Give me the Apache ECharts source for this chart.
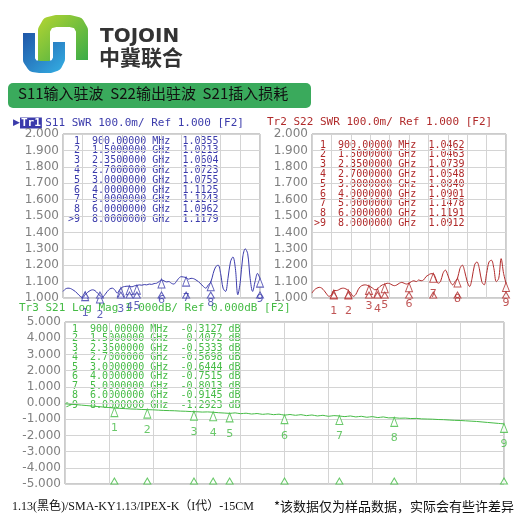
<!DOCTYPE html>
<html><head><meta charset="utf-8">
<script src="https://cdn.jsdelivr.net/npm/echarts@6/dist/echarts.min.js"></script>
<style>html,body{margin:0;padding:0;background:#fff}#c{width:520px;height:520px}</style>
</head><body><div id="c"></div>
<script>
const freq = [0,0.1,0.2,0.3,0.4,0.5,0.6,0.7,0.8,0.9,1.0,1.1,1.2,1.3,1.4,1.5,1.6,1.7,1.8,1.9,2.0,2.1,2.2,2.3,2.4,2.5,2.6,2.7,2.8,2.9,3.0,3.1,3.2,3.3,3.4,3.5,3.6,3.7,3.8,3.9,4.0,4.1,4.2,4.3,4.4,4.5,4.6,4.7,4.8,4.9,5.0,5.1,5.2,5.3,5.4,5.5,5.6,5.7,5.8,5.9,6.0,6.1,6.2,6.3,6.4,6.5,6.6,6.7,6.8,6.9,7.0,7.1,7.2,7.3,7.4,7.5,7.6,7.7,7.8,7.9,8.0];
const s11 = [1.04,1.055,1.06,1.058,1.05,1.04,1.025,1.01,1.003,1.02,1.035,1.045,1.05,1.045,1.03,1.015,1.005,1.02,1.04,1.055,1.06,1.05,1.03,1.05,1.065,1.07,1.072,1.072,1.068,1.074,1.076,1.08,1.078,1.082,1.08,1.085,1.083,1.088,1.09,1.1,1.11,1.105,1.098,1.1,1.09,1.085,1.1,1.12,1.13,1.128,1.124,1.115,1.12,1.118,1.11,1.1,1.085,1.07,1.06,1.08,1.096,1.15,1.19,1.2,1.15,1.06,1.04,1.12,1.22,1.25,1.18,1.02,1.1,1.25,1.3,1.27,1.12,1.04,1.1,1.15,1.118];
const s22 = [1.03,1.05,1.06,1.065,1.06,1.045,1.025,1.01,1.02,1.046,1.045,1.05,1.058,1.06,1.055,1.046,1.03,1.01,1.02,1.05,1.07,1.078,1.08,1.076,1.07,1.06,1.05,1.055,1.07,1.08,1.084,1.09,1.088,1.08,1.075,1.08,1.09,1.095,1.09,1.085,1.09,1.1,1.105,1.1,1.11,1.105,1.11,1.13,1.14,1.148,1.148,1.12,1.09,1.1,1.15,1.17,1.14,1.1,1.08,1.1,1.12,1.18,1.2,1.16,1.1,1.07,1.12,1.2,1.22,1.18,1.1,1.08,1.15,1.22,1.23,1.18,1.1,1.12,1.24,1.15,1.09];
const s21 = [-0.05,-0.08,-0.1,-0.13,-0.16,-0.19,-0.22,-0.25,-0.28,-0.31,-0.33,-0.35,-0.37,-0.38,-0.4,-0.41,-0.42,-0.44,-0.46,-0.47,-0.48,-0.5,-0.51,-0.53,-0.54,-0.56,-0.55,-0.57,-0.6,-0.62,-0.64,-0.61,-0.66,-0.63,-0.68,-0.65,-0.7,-0.67,-0.72,-0.69,-0.75,-0.71,-0.76,-0.72,-0.78,-0.74,-0.8,-0.76,-0.82,-0.78,-0.8,-0.84,-0.8,-0.86,-0.82,-0.88,-0.84,-0.9,-0.86,-0.92,-0.91,-0.94,-0.93,-0.96,-0.95,-0.98,-0.99,-1.0,-1.02,-1.03,-1.05,-1.07,-1.08,-1.1,-1.12,-1.14,-1.17,-1.2,-1.23,-1.26,-1.29];
const markerFreqLabels = ['900.00000 MHz','1.5000000 GHz','2.3500000 GHz','2.7000000 GHz','3.0000000 GHz','4.0000000 GHz','5.0000000 GHz','6.0000000 GHz','8.0000000 GHz'];
const markerFreq = [0.9,1.5,2.35,2.7,3.0,4.0,5.0,6.0,8.0];
const m11 = [1.0355,1.0213,1.0604,1.0723,1.0755,1.1125,1.1243,1.0962,1.1179];
const m22 = [1.0462,1.0463,1.0739,1.0548,1.0840,1.0901,1.1478,1.1191,1.0912];
const m21 = [-0.3127,-0.4072,-0.5333,-0.5698,-0.6444,-0.7515,-0.8013,-0.9145,-1.2923];
const titles = ['S11 SWR 100.0m/ Ref 1.000 [F2]','Tr2 S22 SWR 100.0m/ Ref 1.000 [F2]','Tr3 S21 Log Mag 1.000dB/ Ref 0.000dB [F2]'];
const colors = ['#3b3bab','#b02a2a','#45bb45'];

const chart = echarts.init(document.getElementById('c'));
const grids = [
  {left:63, top:134, width:197, height:164},
  {left:312, top:134, width:194, height:164},
  {left:65, top:322, width:439, height:162}
];
const yr = [[1,2,0.1],[1,2,0.1],[-5,5,1]];
const mono = 'DejaVu Sans Mono';
function grad(c1,c2){return {type:'linear',x:0,y:0,x2:1,y2:1,colorStops:[{offset:0,color:c1},{offset:1,color:c2}]};}
function table(vals, unit){
  return vals.map((v,i)=>{
    const n = (i===8?'>9':' '+(i+1));
    return n+'  '+markerFreqLabels[i]+'  '+v.toFixed(4)+unit;
  }).join('\n');
}
const traces=[s11,s22,s21], marks=[m11,m22,m21];
const series=[];
for(let k=0;k<3;k++){
  series.push({type:'line',xAxisIndex:k,yAxisIndex:k,data:freq.map((f,i)=>[f,traces[k][i]]),
    showSymbol:false,smooth:0.35,lineStyle:{color:colors[k],width:1},silent:true});
  series.push({type:'scatter',xAxisIndex:k,yAxisIndex:k,data:markerFreq.map((f,i)=>[f,marks[k][i]]),
    symbol:'triangle',symbolSize:[7,9],symbolOffset:[0,4],
    itemStyle:{color:'#fff',borderColor:colors[k],borderWidth:1},
    label:{show:true,position:'bottom',distance:6,formatter:p=>String(p.dataIndex+1),color:colors[k],fontSize:11,fontFamily:'DejaVu Sans'}});
  series.push({type:'scatter',xAxisIndex:k,yAxisIndex:k,data:markerFreq.map(f=>[f,yr[k][0]]),
    symbol:'triangle',symbolSize:[7,6],symbolOffset:[0,-3],
    itemStyle:{color:'#fff',borderColor:colors[k],borderWidth:1}});
}
const tstyle=(c)=>({fontFamily:mono,fontSize:10,lineHeight:9.8,fill:c});
const option={
  animation:false,
  grid:grids.map(g=>Object.assign({show:true,borderColor:'#999',borderWidth:1},g)),
  xAxis:grids.map((g,k)=>({type:'value',gridIndex:k,min:0,max:8,interval:0.8,
    axisLabel:{show:false},axisTick:{show:false},axisLine:{show:false},
    splitLine:{lineStyle:{color:'#d4d4d4',width:1}}})),
  yAxis:grids.map((g,k)=>({type:'value',gridIndex:k,min:yr[k][0],max:yr[k][1],interval:yr[k][2],
    axisLabel:{formatter:v=>v.toFixed(3),color:'#808080',fontSize:12,fontFamily:'DejaVu Sans',margin:4},
    axisTick:{show:false},axisLine:{show:false},
    splitLine:{lineStyle:{color:'#d4d4d4',width:1}}})),
  series:series,
  graphic:[
    {type:'polyline',shape:{points:[[44,62],[44,30],[48,23],[56,21],[70,21],[78,23],[82,30],[82,60]]},style:{fill:null,stroke:grad('#b5d531','#2fa84a'),lineWidth:12,lineJoin:'round'}},
    {type:'polyline',shape:{points:[[29,33],[29,60],[33,66],[40,67],[50,67],[56,65],[59,59],[59,42]]},style:{fill:null,stroke:grad('#1d4fa3','#35b0e4'),lineWidth:12,lineJoin:'round'}},
    {type:'text',left:100,top:27,style:{text:'TOJOIN',font:'bold 20px "DejaVu Sans"',fill:'#333'}},
    {type:'text',left:99,top:47,style:{text:'中冀联合',font:'bold 21px "Noto Sans CJK SC"',fill:'#333'}},
    {type:'rect',shape:{x:8,y:83,width:303,height:25,r:5},style:{fill:'#3aaa5c'}},
    {type:'text',left:18,top:86,style:{text:'S11输入驻波  S22输出驻波  S21插入损耗',font:'15px "Noto Sans CJK SC"',fill:'#111'}},
    {type:'text',left:13,top:117,style:{text:'{a|▶}{b|Tr1} {c|'+titles[0]+'}',rich:{a:{fill:colors[0],fontSize:9},b:{backgroundColor:colors[0],fill:'#fff',fontFamily:mono,fontSize:11,fontWeight:'bold',padding:[0,1]},c:{fill:colors[0],fontFamily:mono,fontSize:11}}}},
    {type:'text',left:267,top:117,style:{text:titles[1],font:'11px "'+mono+'"',fill:colors[1]}},
    {type:'text',left:19,top:303,style:{text:titles[2],font:'11px "'+mono+'"',fill:colors[2]}},
    {type:'text',left:68,top:136,style:{text:table(m11,''),rich:{},...tstyle(colors[0])}},
    {type:'text',left:314,top:140,style:{text:table(m22,''),...tstyle(colors[1])}},
    {type:'text',left:66,top:324,style:{text:table(m21,' dB'),...tstyle(colors[2]),lineHeight:9.5}},
    {type:'text',left:12,top:501,style:{text:'1.13(黑色)/SMA-KY1.13/IPEX-K（I代）-15CM',font:'12px "Liberation Serif","Noto Sans CJK SC"',fill:'#111'}},
    {type:'text',left:274,top:500,style:{text:'*该数据仅为样品数据，实际会有些许差异',font:'13px "Noto Sans CJK SC"',fill:'#111'}}
  ]
};
chart.setOption(option);
</script></body></html>
